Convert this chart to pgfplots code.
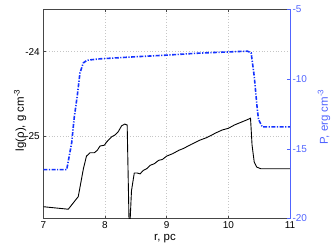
\documentclass[border=0pt]{standalone}
\usepackage{pgfplots}
\pgfplotsset{compat=1.18}
\usepackage{fontspec}
\setmainfont{Liberation Sans}
\definecolor{rcol}{RGB}{80,100,255}
\definecolor{bcurve}{RGB}{20,50,255}
\definecolor{axcol}{RGB}{70,70,70}
\begin{document}
\begin{tikzpicture}
\begin{axis}[
  scale only axis, width=246.7bp, height=209bp,
  xmin=7, xmax=11, ymin=-25.98, ymax=-23.5,
  xtick={7,8,9,10,11}, ytick={-25,-24},
  axis x line=box, axis y line*=left,
  xtick pos=both,
  axis line style={axcol, line width=0.6pt},
  tick style={axcol, line width=0.5pt},
  major tick length=3bp,
  tick align=inside,
  grid=major, major grid style={dash pattern=on 0.6bp off 2.2bp, gray!45, line width=0.5pt},
  /pgf/number format/assume math mode=true,
  tick label style={font=\fontsize{10}{12}\selectfont, text=black},
  label style={font=\fontsize{11.5}{13}\selectfont},
  xticklabel style={yshift=0bp},
  xlabel={r, pc},
  ylabel={lg(ρ), g cm\textsuperscript{-3}},
  xlabel style={at={(axis description cs:0.493,-0.097)}, anchor=center},
  ylabel style={at={(axis description cs:-0.094,0.47)}, anchor=center},
  clip=true,
]
\coordinate (O) at (rel axis cs:0,0);
\addplot[black, line width=0.9pt] coordinates {
(7.0,-25.84) (7.405,-25.87) (7.567,-25.72) (7.65,-25.39) (7.70,-25.24)
(7.757,-25.20) (7.827,-25.20) (7.876,-25.17) (7.92,-25.12) (7.99,-25.11)
(8.03,-25.07) (8.11,-25.01) (8.16,-24.99) (8.215,-24.95) (8.27,-24.88)
(8.32,-24.86) (8.36,-24.87) (8.395,-26.2) (8.43,-25.65) (8.475,-25.44)
(8.52,-25.44) (8.57,-25.45) (8.62,-25.41) (8.675,-25.39) (8.73,-25.35)
(8.8,-25.33) (8.87,-25.29) (8.93,-25.28) (9.0,-25.24) (9.1,-25.21)
(9.2,-25.17) (9.27,-25.15) (9.4,-25.10) (9.54,-25.05) (9.65,-25.02)
(9.81,-24.96) (9.9,-24.93) (10.0,-24.91) (10.1,-24.87) (10.2,-24.84)
(10.3,-24.81) (10.36,-24.79) (10.385,-25.11) (10.42,-25.31) (10.46,-25.37)
(10.53,-25.39) (11.0,-25.39)
};
\end{axis}
\begin{axis}[
  scale only axis, width=246.7bp, height=209bp,
  xmin=7, xmax=11, ymin=-20, ymax=-5,
  ytick={-20,-15,-10,-5},
  axis x line=none, axis y line*=right,
  axis line style={rcol, line width=0.6pt},
  tick style={rcol, line width=0.5pt},
  major tick length=3bp,
  tick align=inside,
  /pgf/number format/assume math mode=true,
  tick label style={font=\fontsize{10}{12}\selectfont, text=rcol},
  label style={font=\fontsize{11.5}{13}\selectfont, text=rcol},
  yticklabel style={xshift=-1bp},
  ylabel={P, erg cm\textsuperscript{-3}},
  ylabel style={at={(axis description cs:1.138,0.486)}, anchor=center, rotate=0},
]
\addplot[bcurve, line width=1.6pt, dash pattern=on 4bp off 1.5bp on 1.2bp off 1.5bp] coordinates {
(7.0,-16.49) (7.38,-16.49) (7.46,-14.57) (7.50,-12.8) (7.55,-11.22)
(7.595,-9.54) (7.65,-8.83) (7.71,-8.64) (7.92,-8.54) (8.46,-8.40)
(8.98,-8.28) (9.53,-8.13) (10.31,-7.99) (10.37,-8.11) (10.42,-9.79)
(10.47,-12.18) (10.49,-12.9) (10.55,-13.42) (11.0,-13.42)
};
\end{axis}
\pgfresetboundingbox
\path[use as bounding box] (O) ++(-43.3bp,-30.5bp) rectangle ++(332bp,249bp);
\end{tikzpicture}
\end{document}
